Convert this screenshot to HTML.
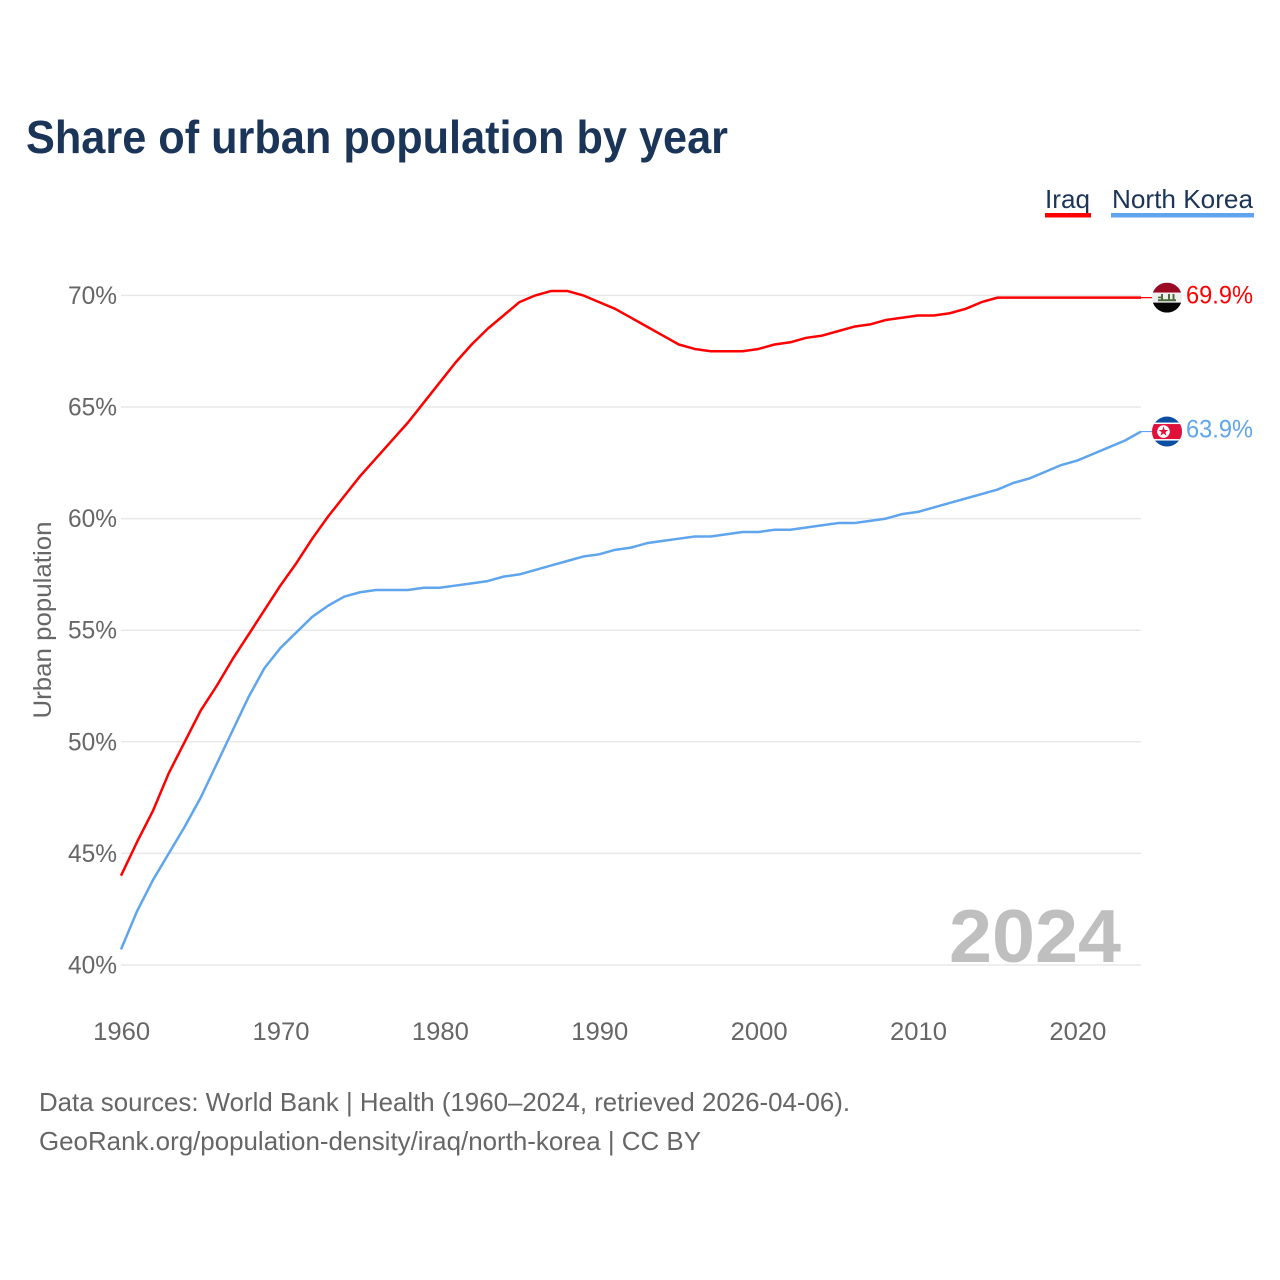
<!DOCTYPE html>
<html lang="en">
<head>
<meta charset="utf-8">
<title>Share of urban population by year</title>
<style>
html,body{margin:0;padding:0;background:#fff;width:1280px;height:1280px;overflow:hidden}
svg{display:block}
text{font-family:"Liberation Sans",sans-serif}
</style>
</head>
<body>
<svg id="chart" xmlns="http://www.w3.org/2000/svg" width="1280" height="1280" viewBox="0 0 1280 1280">
  <defs>
    <clipPath id="flag-clip"><circle cx="0" cy="0" r="15"></circle></clipPath>
  </defs>
  <rect x="0" y="0" width="1280" height="1280" fill="#ffffff"></rect>
  <text x="26" y="153" font-size="46" font-weight="700" fill="#1a3557" textLength="702" lengthAdjust="spacingAndGlyphs">Share of urban population by year</text>

  <g>
    <g>
      <text x="1045" y="208" font-size="26" fill="#1a3557" textLength="45" lengthAdjust="spacingAndGlyphs">Iraq</text>
      <rect x="1045" y="213" width="46" height="4.5" fill="#ff0000"></rect>
    </g>
    <g>
      <text x="1112" y="208" font-size="26" fill="#1a3557" textLength="141" lengthAdjust="spacingAndGlyphs">North Korea</text>
      <rect x="1111" y="213" width="143" height="4.5" fill="#5fa5ee"></rect>
    </g>
  </g>

  <g id="grid"></g>
  <g id="y-axis"></g>
  <g id="x-axis"></g>
  <text transform="translate(51,620) rotate(-90)" text-anchor="middle" font-size="25" fill="#666666" textLength="197" lengthAdjust="spacingAndGlyphs">Urban population</text>

  <text x="1121" y="962" text-anchor="end" font-size="75" font-weight="700" fill="#bfbfbf" textLength="172" lengthAdjust="spacingAndGlyphs">2024</text>

  <g id="series"></g>

  <g id="flag-iraq">
    <g clip-path="url(#flag-clip)">
      <rect x="-15" y="-15" width="30" height="10" fill="#9b0a25"></rect>
      <rect x="-15" y="-5" width="30" height="10" fill="#efefef"></rect>
      <rect x="-15" y="5" width="30" height="10" fill="#050505"></rect>
      <rect x="-9" y="1.6" width="18" height="2" fill="#4d6b3c"></rect>
      <rect x="-6" y="-3.6" width="2" height="5.5" fill="#4d6b3c"></rect>
      <rect x="1" y="-3.6" width="2" height="5.5" fill="#4d6b3c"></rect>
      <rect x="5.5" y="-3.6" width="2" height="5.5" fill="#4d6b3c"></rect>
      <rect x="-9" y="-1" width="3" height="1.6" fill="#4d6b3c"></rect>
    </g>
  </g>
  <g id="flag-nk">
    <g clip-path="url(#flag-clip)">
      <rect x="-15" y="-15" width="30" height="30" fill="#0b4ea2"></rect>
      <rect x="-15" y="-9" width="30" height="18" fill="#ffffff"></rect>
      <rect x="-15" y="-7.5" width="30" height="15" fill="#e0103a"></rect>
      <circle cx="-3.5" cy="0" r="6.3" fill="#ffffff"></circle>
      <polygon points="-3.5,-5.2 -2.3,-1.6 1.4,-1.6 -1.6,0.6 -0.5,4.2 -3.5,2 -6.5,4.2 -5.4,0.6 -8.4,-1.6 -4.7,-1.6" fill="#e0103a"></polygon>
    </g>
  </g>
  <g id="end-labels"></g>

  <text x="39" y="1111" font-size="26" fill="#666666" textLength="811" lengthAdjust="spacingAndGlyphs">Data sources: World Bank | Health (1960–2024, retrieved 2026-04-06).</text>
  <text x="39" y="1150" font-size="26" fill="#666666" textLength="662" lengthAdjust="spacingAndGlyphs">GeoRank.org/population-density/iraq/north-korea | CC BY</text>
</svg>
<script>
const startYear = 1960;
const endYear = 2024;
const yTicks = [40, 45, 50, 55, 60, 65, 70];
const xTicks = [1960, 1970, 1980, 1990, 2000, 2010, 2020];
const iraqValues = [
  44.0, 45.5, 46.9, 48.6, 50.0, 51.4, 52.5, 53.7, 54.8, 55.9,
  57.0, 58.0, 59.1, 60.1, 61.0, 61.9, 62.7, 63.5, 64.3, 65.2,
  66.1, 67.0, 67.8, 68.5, 69.1, 69.7, 70.0, 70.2, 70.2, 70.0,
  69.7, 69.4, 69.0, 68.6, 68.2, 67.8, 67.6, 67.5, 67.5, 67.5,
  67.6, 67.8, 67.9, 68.1, 68.2, 68.4, 68.6, 68.7, 68.9, 69.0,
  69.1, 69.1, 69.2, 69.4, 69.7, 69.9, 69.9, 69.9, 69.9, 69.9,
  69.9, 69.9, 69.9, 69.9, 69.9
];
const northKoreaValues = [
  40.7, 42.4, 43.8, 45.0, 46.2, 47.5, 49.0, 50.5, 52.0, 53.3,
  54.2, 54.9, 55.6, 56.1, 56.5, 56.7, 56.8, 56.8, 56.8, 56.9,
  56.9, 57.0, 57.1, 57.2, 57.4, 57.5, 57.7, 57.9, 58.1, 58.3,
  58.4, 58.6, 58.7, 58.9, 59.0, 59.1, 59.2, 59.2, 59.3, 59.4,
  59.4, 59.5, 59.5, 59.6, 59.7, 59.8, 59.8, 59.9, 60.0, 60.2,
  60.3, 60.5, 60.7, 60.9, 61.1, 61.3, 61.6, 61.8, 62.1, 62.4,
  62.6, 62.9, 63.2, 63.5, 63.9
];

const NS = 'http://www.w3.org/2000/svg';
const plotLeft = 121;
const plotRight = 1141;
const flagX = 1167;
function xScale(year) {
  return plotLeft + (year - startYear) * (plotRight - plotLeft) / (endYear - startYear);
}
function yScale(value) {
  return 965 - (value - 40) * 22.32;
}
function svgEl(tag, attrs) {
  const el = document.createElementNS(NS, tag);
  for (const k in attrs) el.setAttribute(k, attrs[k]);
  return el;
}

const grid = document.getElementById('grid');
const yAxis = document.getElementById('y-axis');
yTicks.forEach(function (t) {
  const line = svgEl('line', {x1: plotLeft, x2: plotRight, y1: yScale(t), y2: yScale(t), stroke: '#e8e8e8', 'stroke-width': 1.5});
  
  
  grid.appendChild(line);
  const label = svgEl('text', {x: 117, y: yScale(t) + 8.5, 'text-anchor': 'end', 'font-size': 25, fill: '#666666', textLength: 49, lengthAdjust: 'spacingAndGlyphs'});
  
  
  label.textContent = t + '%';
  yAxis.appendChild(label);
});

const xAxis = document.getElementById('x-axis');
xTicks.forEach(function (t) {
  const label = svgEl('text', {x: xScale(t) + 0.7, y: 1040, 'text-anchor': 'middle', 'font-size': 25, fill: '#666666', textLength: 57, lengthAdjust: 'spacingAndGlyphs'});
  
  
  label.textContent = t;
  xAxis.appendChild(label);
});

const seriesGroup = document.getElementById('series');
function linePoints(values) {
  return values.map(function (v, i) {
    return xScale(startYear + i).toFixed(2) + ',' + yScale(v).toFixed(2);
  }).join(' ');
}

const iraqLine = svgEl('polyline', {points: linePoints(iraqValues), fill: 'none', stroke: '#ff0000', 'stroke-width': 2.5, 'stroke-linejoin': 'round'});


seriesGroup.appendChild(iraqLine);

const nkLine = svgEl('polyline', {points: linePoints(northKoreaValues), fill: 'none', stroke: '#5fa5ee', 'stroke-width': 2.5, 'stroke-linejoin': 'round'});


seriesGroup.appendChild(nkLine);

const iraqLast = iraqValues[iraqValues.length - 1];
const nkLast = northKoreaValues[northKoreaValues.length - 1];

const iraqConn = svgEl('line', {x1: plotRight, x2: flagX, y1: yScale(iraqLast), y2: yScale(iraqLast), stroke: '#ff0000', 'stroke-width': 1.2});


seriesGroup.appendChild(iraqConn);

const nkConn = svgEl('line', {x1: plotRight, x2: flagX, y1: yScale(nkLast), y2: yScale(nkLast), stroke: '#5fa5ee', 'stroke-width': 1.2});


seriesGroup.appendChild(nkConn);

document.getElementById('flag-iraq').setAttribute('transform', 'translate(' + flagX + ',' + yScale(iraqLast) + ')');
document.getElementById('flag-nk').setAttribute('transform', 'translate(' + flagX + ',' + yScale(nkLast) + ')');

const endLabels = document.getElementById('end-labels');
const iraqEnd = svgEl('text', {x: 1186, y: yScale(iraqLast) + 6, 'font-size': 25, fill: '#ff0000', textLength: 67, lengthAdjust: 'spacingAndGlyphs'});


iraqEnd.textContent = iraqLast.toFixed(1) + '%';
endLabels.appendChild(iraqEnd);

const nkEnd = svgEl('text', {x: 1186, y: yScale(nkLast) + 6, 'font-size': 25, fill: '#5fa5ee', textLength: 67, lengthAdjust: 'spacingAndGlyphs'});


nkEnd.textContent = nkLast.toFixed(1) + '%';
endLabels.appendChild(nkEnd);
</script>
</body>
</html>
